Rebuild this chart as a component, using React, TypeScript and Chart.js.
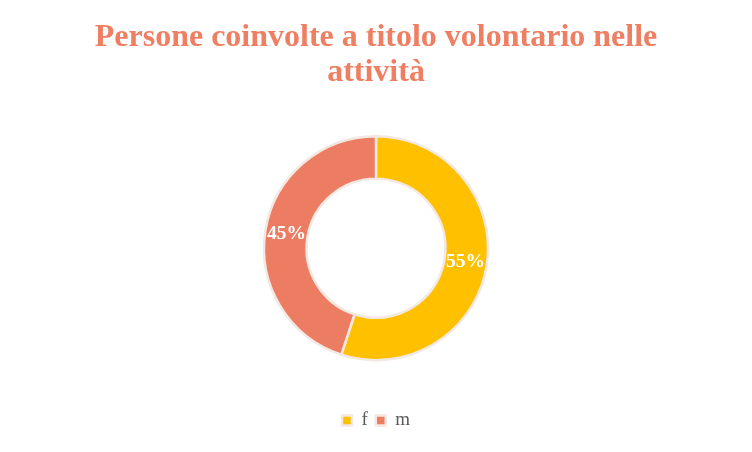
import React, { useEffect, useRef } from "react";
import { Chart, registerables } from "chart.js";

Chart.register(...registerables);

const categories = ["f", "m"];
const values = [55, 45];
const labelsText = ["55%", "45%"];
const colors = ["#FFC000", "#ED7D62"];
const titleLines = ["Persone coinvolte a titolo volontario nelle", "attività"];

const SERIF = "'Liberation Serif', 'DejaVu Serif', serif";

const sliceLabels = {
  id: "sliceLabels",
  afterDatasetsDraw(chart: any) {
    const ctx = chart.ctx;
    const meta = chart.getDatasetMeta(0);
    ctx.save();
    ctx.fillStyle = "#FFFFFF";
    ctx.font = `bold 19.5px ${SERIF}`;
    ctx.textAlign = "center";
    ctx.textBaseline = "middle";
    meta.data.forEach((arc: any, i: number) => {
      const p = arc.tooltipPosition();
      ctx.fillText(labelsText[i], p.x, p.y);
    });
    ctx.restore();
  },
};

export default function App() {
  const ref = useRef<HTMLCanvasElement | null>(null);
  useEffect(() => {
    if (!ref.current) return;
    const chart = new Chart(ref.current, {
      type: "doughnut",
      data: {
        labels: categories,
        datasets: [
          {
            data: values,
            backgroundColor: colors,
            borderColor: "#F3E8E2",
            borderWidth: 2.5,
            radius: 112,
          } as any,
        ],
      },
      options: {
        animation: false,
        responsive: true,
        maintainAspectRatio: false,
        cutout: "62%",
        layout: { padding: { bottom: 12 } },
        plugins: {
          title: {
            display: true,
            text: titleLines,
            color: "#EE7F63",
            font: { family: SERIF, size: 32, weight: "bold", lineHeight: 1.1 },
            padding: { top: 20, bottom: 3 },
          },
          legend: {
            position: "bottom",
            labels: {
              boxWidth: 10,
              boxHeight: 10,
              color: "#595959",
              font: { family: SERIF, size: 19 },
              padding: 8,
            },
          },
          tooltip: { enabled: false },
        },
      } as any,
      plugins: [sliceLabels],
    });
    return () => chart.destroy();
  }, []);
  return (
    <div style={{ position: "fixed", left: 0, top: 0, width: 752, height: 452, background: "#fff" }}>
      <canvas ref={ref} />
    </div>
  );
}
